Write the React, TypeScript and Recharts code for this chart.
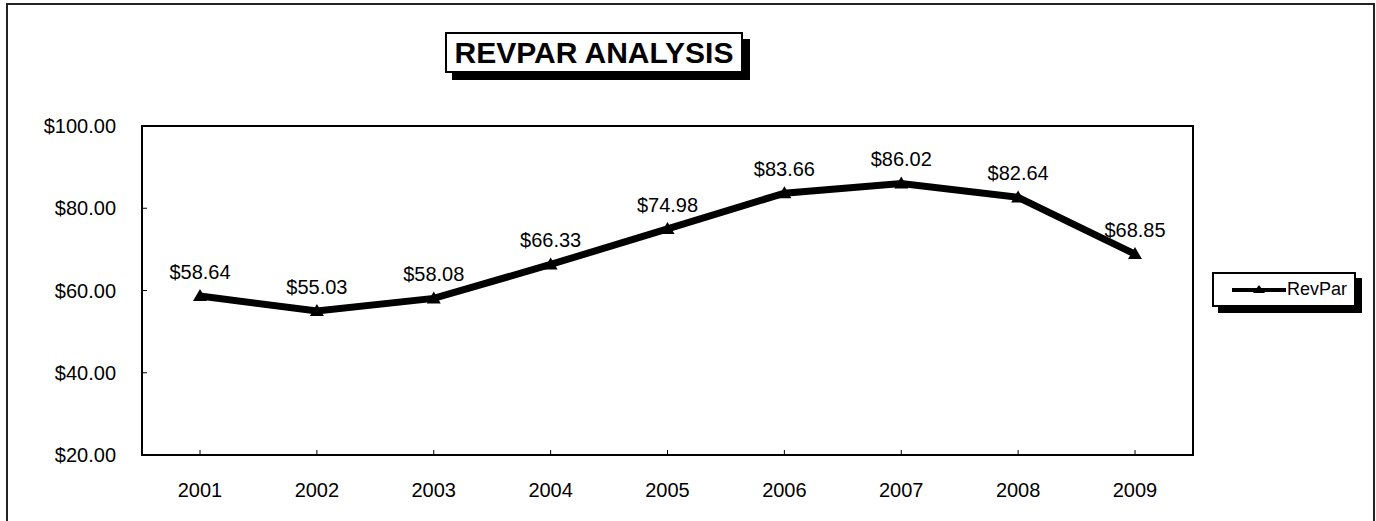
import { LineChart, Line, XAxis, YAxis, LabelList } from 'recharts';

const years = ['2001', '2002', '2003', '2004', '2005', '2006', '2007', '2008', '2009'];
const revpar = [58.64, 55.03, 58.08, 66.33, 74.98, 83.66, 86.02, 82.64, 68.85];
const yTicks = [20, 40, 60, 80, 100];

const data = years.map((year, i) => ({ year, RevPar: revpar[i] }));

const FONT = '"Liberation Sans", Arial, sans-serif';
const money = (v: any) => `$${Number(v).toFixed(2)}`;

function Triangle(props: any) {
    const { cx, cy } = props;
    if (cx == null || cy == null) return null;
    return <polygon points={`${cx - 7},${cy + 5} ${cx + 7},${cy + 5} ${cx},${cy - 7}`} fill="#000" />;
}

// ticks point inward, like the Excel original
function XTick(props: any) {
    const { x, y, payload } = props;
    return (
        <g>
            <line x1={x} y1={y} x2={x} y2={y - 5} stroke="#000" strokeWidth={1} />
            <text x={x} y={y + 42} textAnchor="middle" fill="#000" fontSize={20} fontFamily={FONT}>
                {payload.value}
            </text>
        </g>
    );
}

function YTick(props: any) {
    const { x, y, payload } = props;
    return (
        <g>
            <line x1={x} y1={y} x2={x + 5} y2={y} stroke="#000" strokeWidth={1} />
            <text x={x - 26} y={y + 7} textAnchor="end" fill="#000" fontSize={20} fontFamily={FONT}>
                {money(payload.value)}
            </text>
        </g>
    );
}

function LegendBox() {
    return (
        <div style={{ position: 'absolute', left: 1212, top: 272, width: 150, height: 41 }}>
            <div style={{ position: 'absolute', left: 6, top: 6, width: 144, height: 35, background: '#000' }} />
            <div style={{
                position: 'absolute', left: 0, top: 0, width: 144, height: 35, background: '#fff', boxSizing: 'border-box',
                border: '2px solid #000', display: 'flex', alignItems: 'center',
            }}>
                <svg width={54} height={14} style={{ marginLeft: 18 }}>
                    <line x1={0} y1={7} x2={54} y2={7} stroke="#000" strokeWidth={4} />
                    <polygon points="21,10 33,10 27,2" fill="#000" />
                </svg>
                <span style={{ fontFamily: FONT, fontSize: 18, marginLeft: 1 }}>RevPar</span>
            </div>
        </div>
    );
}

export default function App() {
    return (
        <div style={{ position: 'absolute', left: 0, top: 0, width: 1376, height: 521, background: '#fff', overflow: 'hidden' }}>
            <div style={{
                position: 'absolute', left: 6, top: 3, width: 1369, height: 530,
                border: '2px solid #222', boxSizing: 'border-box',
            }} />
            <div style={{ position: 'absolute', left: 452, top: 39, width: 298, height: 41, background: '#000' }} />
            <div style={{
                position: 'absolute', left: 445, top: 32, width: 298, height: 41, boxSizing: 'border-box',
                border: '2px solid #000', background: '#fff', display: 'flex', alignItems: 'center',
                justifyContent: 'center', fontFamily: FONT, fontWeight: 'bold', fontSize: 30,
            }}>
                REVPAR ANALYSIS
            </div>
            <div style={{ position: 'absolute', left: 0, top: 0 }}>
                <LineChart
                    width={1376}
                    height={521}
                    data={data}
                    margin={{ top: 126, right: 183, left: 0, bottom: 0 }}
                    style={{ fontFamily: FONT }}
                >
                    <XAxis
                        dataKey="year"
                        height={66}
                        padding={{ left: 58, right: 58 }}
                        axisLine={{ stroke: '#000', strokeWidth: 2 }}
                        tickLine={false}
                        tickSize={0}
                        tickMargin={0}
                        tick={<XTick />}
                    />
                    <YAxis
                        width={142}
                        domain={[20, 100]}
                        ticks={yTicks}
                        interval={0}
                        axisLine={{ stroke: '#000', strokeWidth: 2 }}
                        tickLine={false}
                        tickSize={0}
                        tickMargin={0}
                        tick={<YTick />}
                    />
                    <Line
                        dataKey="RevPar"
                        type="linear"
                        stroke="#000"
                        strokeWidth={7}
                        dot={<Triangle />}
                        activeDot={false}
                        isAnimationActive={false}
                    >
                        <LabelList
                            dataKey="RevPar"
                            position="top"
                            offset={17}
                            formatter={money}
                            style={{ fill: '#000', fontSize: 20, fontFamily: FONT }}
                        />
                    </Line>
                </LineChart>
            </div>
            {/* plot-area frame */}
            <div style={{
                position: 'absolute', left: 141, top: 125, width: 1053, height: 331,
                border: '2px solid #000', boxSizing: 'border-box', pointerEvents: 'none',
            }} />
            <LegendBox />
        </div>
    );
}
